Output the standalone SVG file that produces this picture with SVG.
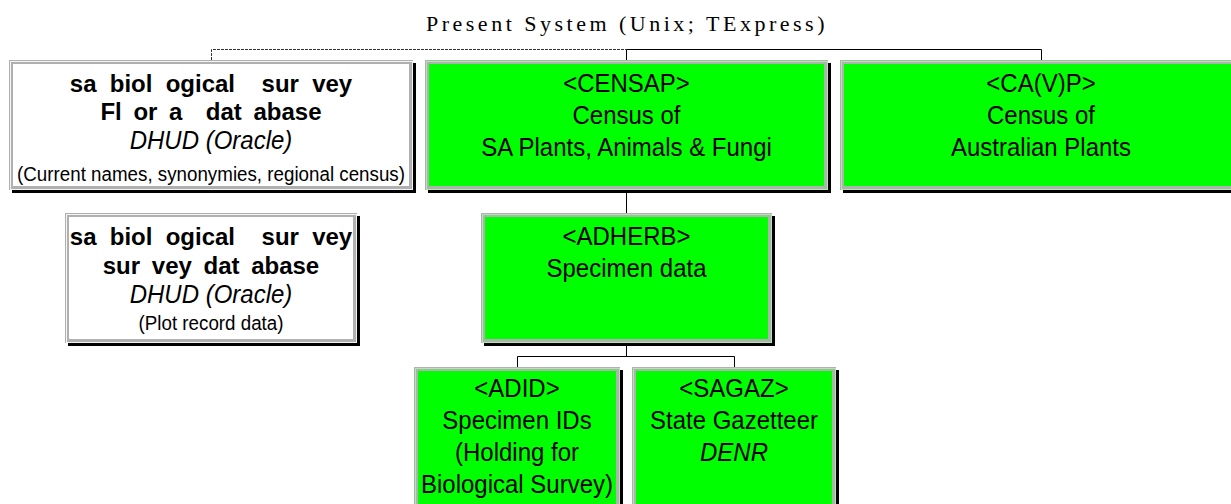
<svg xmlns="http://www.w3.org/2000/svg" width="1231" height="504" viewBox="0 0 1231 504">
  <style>
    .shadow { fill: #000; }
    .frame { stroke: #b0b0b0; stroke-width: 4; }
    .white { fill: #ffffff; }
    .green { fill: #00ff00; }
    .inner-w { fill: none; stroke: #f4f4f4; stroke-width: 1; }
    .inner-g { fill: none; stroke: #a8eca8; stroke-width: 1; }
    text { font-family: "Liberation Sans", Arial, sans-serif; fill: #000; text-anchor: middle; }
    /* body lines use a slightly condensed face: taller glyphs, same line width */
    .t { font-size: 25.5px; }
    .i { font-size: 25.5px; font-style: italic; }
    .s { font-size: 21px; }
    .b { font-size: 24px; font-weight: bold; white-space: pre; word-spacing: 5px; }
    .wide { word-spacing: 6.6px; }
    .title { font-family: "Liberation Serif", "Times New Roman", serif; font-size: 22px; letter-spacing: 3.5px; }
    .conn { fill: none; stroke: #000; stroke-width: 1; }
    .conn-dash { fill: none; stroke: #333; stroke-width: 1; stroke-dasharray: 3 1; }
  </style>

  <text class="title" x="627" y="31">Present System (Unix; TExpress)</text>

  <g id="connectors">
    <polyline class="conn-dash" points="211.5,60 211.5,49.5 626.5,49.5"/>
    <polyline class="conn" points="626.5,60 626.5,49.5 1041.5,49.5 1041.5,60"/>
    <line class="conn" x1="626.5" y1="193" x2="626.5" y2="213"/>
    <line class="conn" x1="626.5" y1="346" x2="626.5" y2="356.5"/>
    <polyline class="conn" points="517.5,367 517.5,356.5 734.5,356.5 734.5,367"/>
  </g>

  <g id="flora-db">
    <rect class="shadow" x="12" y="63" width="404" height="130"/>
    <rect class="frame white" x="11" y="62" width="400" height="126"/>
    <rect class="inner-w" x="10.5" y="61.5" width="402" height="128"/>
    <text class="b wide" x="211" y="92">sa biol ogical  sur vey</text>
    <text class="b" x="211" y="120">Fl or a  dat abase</text>
    <text class="i" transform="translate(211 149) scale(0.941 1)">DHUD (Oracle)</text>
    <text class="s" transform="translate(211 181) scale(0.894 1)">(Current names, synonymies, regional census)</text>
  </g>

  <g id="censap">
    <rect class="shadow" x="428" y="63" width="403" height="130"/>
    <rect class="frame green" x="427" y="62" width="399" height="126"/>
    <rect class="inner-g" x="426.5" y="61.5" width="401" height="128"/>
    <text class="t" transform="translate(626.5 92) scale(0.941 1)">&lt;CENSAP&gt;</text>
    <text class="t" transform="translate(626.5 124) scale(0.941 1)">Census of</text>
    <text class="t" transform="translate(626.5 156) scale(0.941 1)">SA Plants, Animals &amp; Fungi</text>
  </g>

  <g id="cavp">
    <rect class="shadow" x="843" y="63" width="402" height="130"/>
    <rect class="frame green" x="842" y="62" width="398" height="126"/>
    <rect class="inner-g" x="841.5" y="61.5" width="400" height="128"/>
    <text class="t" transform="translate(1041 92) scale(0.941 1)">&lt;CA(V)P&gt;</text>
    <text class="t" transform="translate(1041 124) scale(0.941 1)">Census of</text>
    <text class="t" transform="translate(1041 156) scale(0.941 1)">Australian Plants</text>
  </g>

  <g id="survey-db">
    <rect class="shadow" x="68" y="216" width="292" height="130"/>
    <rect class="frame white" x="67" y="215" width="288" height="126"/>
    <rect class="inner-w" x="66.5" y="214.5" width="290" height="128"/>
    <text class="b wide" x="211" y="245">sa biol ogical  sur vey</text>
    <text class="b" x="211" y="274">sur vey dat abase</text>
    <text class="i" transform="translate(211 303) scale(0.941 1)">DHUD (Oracle)</text>
    <text class="s" transform="translate(211 330) scale(0.894 1)">(Plot record data)</text>
  </g>

  <g id="adherb">
    <rect class="shadow" x="484" y="216" width="291" height="130"/>
    <rect class="frame green" x="483" y="215" width="287" height="126"/>
    <rect class="inner-g" x="482.5" y="214.5" width="289" height="128"/>
    <text class="t" transform="translate(626.5 245) scale(0.941 1)">&lt;ADHERB&gt;</text>
    <text class="t" transform="translate(626.5 277) scale(0.941 1)">Specimen data</text>
  </g>

  <g id="adid">
    <rect class="shadow" x="417" y="370" width="206" height="150"/>
    <rect class="frame green" x="416" y="369" width="202" height="146"/>
    <rect class="inner-g" x="415.5" y="368.5" width="204" height="148"/>
    <text class="t" transform="translate(517 397) scale(0.941 1)">&lt;ADID&gt;</text>
    <text class="t" transform="translate(517 429) scale(0.941 1)">Specimen IDs</text>
    <text class="t" transform="translate(517 461) scale(0.941 1)">(Holding for</text>
    <text class="t" transform="translate(517 493) scale(0.941 1)">Biological Survey)</text>
  </g>

  <g id="sagaz">
    <rect class="shadow" x="635" y="370" width="204" height="150"/>
    <rect class="frame green" x="634" y="369" width="200" height="146"/>
    <rect class="inner-g" x="633.5" y="368.5" width="202" height="148"/>
    <text class="t" transform="translate(734 397) scale(0.941 1)">&lt;SAGAZ&gt;</text>
    <text class="t" transform="translate(734 429) scale(0.941 1)">State Gazetteer</text>
    <text class="i" transform="translate(734 461) scale(0.941 1)">DENR</text>
  </g>
</svg>
